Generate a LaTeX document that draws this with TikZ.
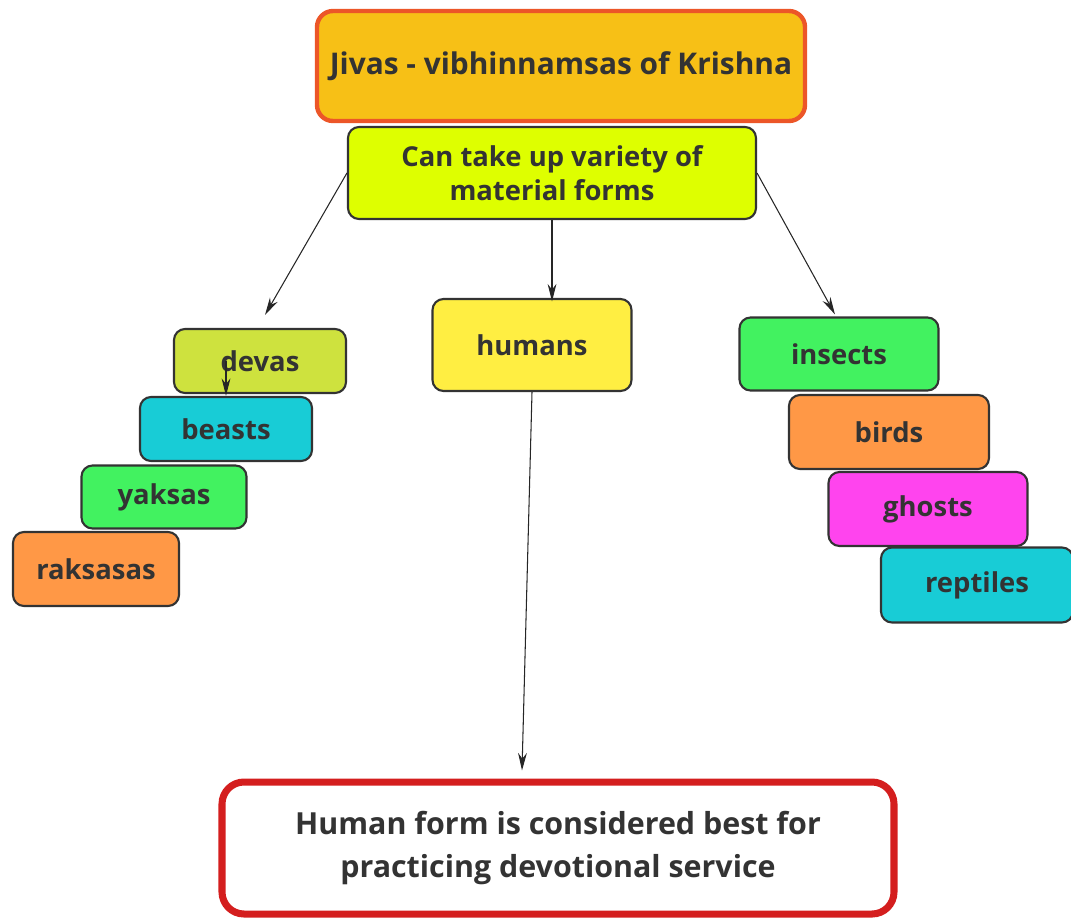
\documentclass[tikz,border=0pt]{standalone}
\usepackage{fontspec}
\setmainfont{Open Sans}
\usepackage{xcolor}
\definecolor{titlefill}{RGB}{247,192,22}
\definecolor{titleline}{RGB}{236,86,40}
\definecolor{formfill}{RGB}{222,255,0}
\definecolor{devasfill}{RGB}{206,226,62}
\definecolor{cyanfill}{RGB}{24,204,214}
\definecolor{greenfill}{RGB}{66,242,96}
\definecolor{orangefill}{RGB}{255,152,70}
\definecolor{humanfill}{RGB}{255,238,66}
\definecolor{ghostfill}{RGB}{255,68,238}
\definecolor{bestline}{RGB}{212,30,30}
\usepackage{tikz}
\usetikzlibrary{arrows.meta}
\newlength\pxu
\setlength\pxu{0.02cm}

\begin{document}
\begin{tikzpicture}[x=0.02cm, y=-0.02cm,
    box/.style={draw=black!80, line width=1.2pt, rounded corners=11\pxu, align=center,
        text=black!80, font=\bfseries\fontsize{15.6}{19}\selectfont, inner sep=0pt},
    arr/.style={draw=black!85, line width=0.6pt, -{Stealth[length=10pt, width=5pt]}}]
    \useasboundingbox (0, 0) rectangle (1071, 920);
    % top of the map
    \node[box, fill=titlefill, draw=titleline, line width=2.5pt, rounded corners=16\pxu,
        minimum width=488\pxu, minimum height=110\pxu, font=\bfseries\fontsize{17}{20}\selectfont]
        (jivas) at (561, 66) {Jivas - vibhinnamsas of Krishna};
    \node[box, fill=formfill, minimum width=408\pxu, minimum height=92\pxu]
        (forms) at (552, 173) {Can take up variety of\\material forms};
    % left column
    \node[box, fill=devasfill, minimum width=172\pxu, minimum height=64\pxu] (devas) at (260, 361) {devas};
    \node[box, fill=cyanfill, minimum width=172\pxu, minimum height=64\pxu] (beasts) at (226, 429) {beasts};
    \node[box, fill=greenfill, minimum width=165\pxu, minimum height=63\pxu] (yaksas) at (164, 497) {yaksas};
    \node[box, fill=orangefill, minimum width=166\pxu, minimum height=74\pxu] (raksasas) at (96, 569) {raksasas};
    % middle
    \node[box, fill=humanfill, minimum width=199\pxu, minimum height=92\pxu] (humans) at (532, 345) {humans};
    % right column
    \node[box, fill=greenfill, minimum width=199\pxu, minimum height=73\pxu] (insects) at (839, 354) {insects};
    \node[box, fill=orangefill, minimum width=200\pxu, minimum height=74\pxu] (birds) at (889, 432) {birds};
    \node[box, fill=ghostfill, minimum width=199\pxu, minimum height=74\pxu] (ghosts) at (928, 509) {ghosts};
    \node[box, fill=cyanfill, minimum width=192\pxu, minimum height=75\pxu] (reptiles) at (977, 585) {reptiles};
    % bottom
    \node[box, fill=white, draw=bestline, line width=4pt, rounded corners=22\pxu,
        minimum width=672\pxu, minimum height=132\pxu, font=\bfseries\fontsize{17.3}{24}\selectfont]
        (best) at (558, 848) {Human form is considered best for\\practicing devotional service};
    % connectors
    \draw[arr] (forms.west) -- ([shift={(5,-13)}]devas.north);
    \draw[arr] (forms.south) -- ([yshift=-2]humans.north -| forms.south);
    \draw[arr] (forms.east) -- ([shift={(-4,-2)}]insects.north);
    \draw[arr] (humans.south) -- ([shift={(-36,-8)}]best.north);
    \draw[arr] (beasts.north |- devas.center) -- (beasts.north);
\end{tikzpicture}
\end{document}
